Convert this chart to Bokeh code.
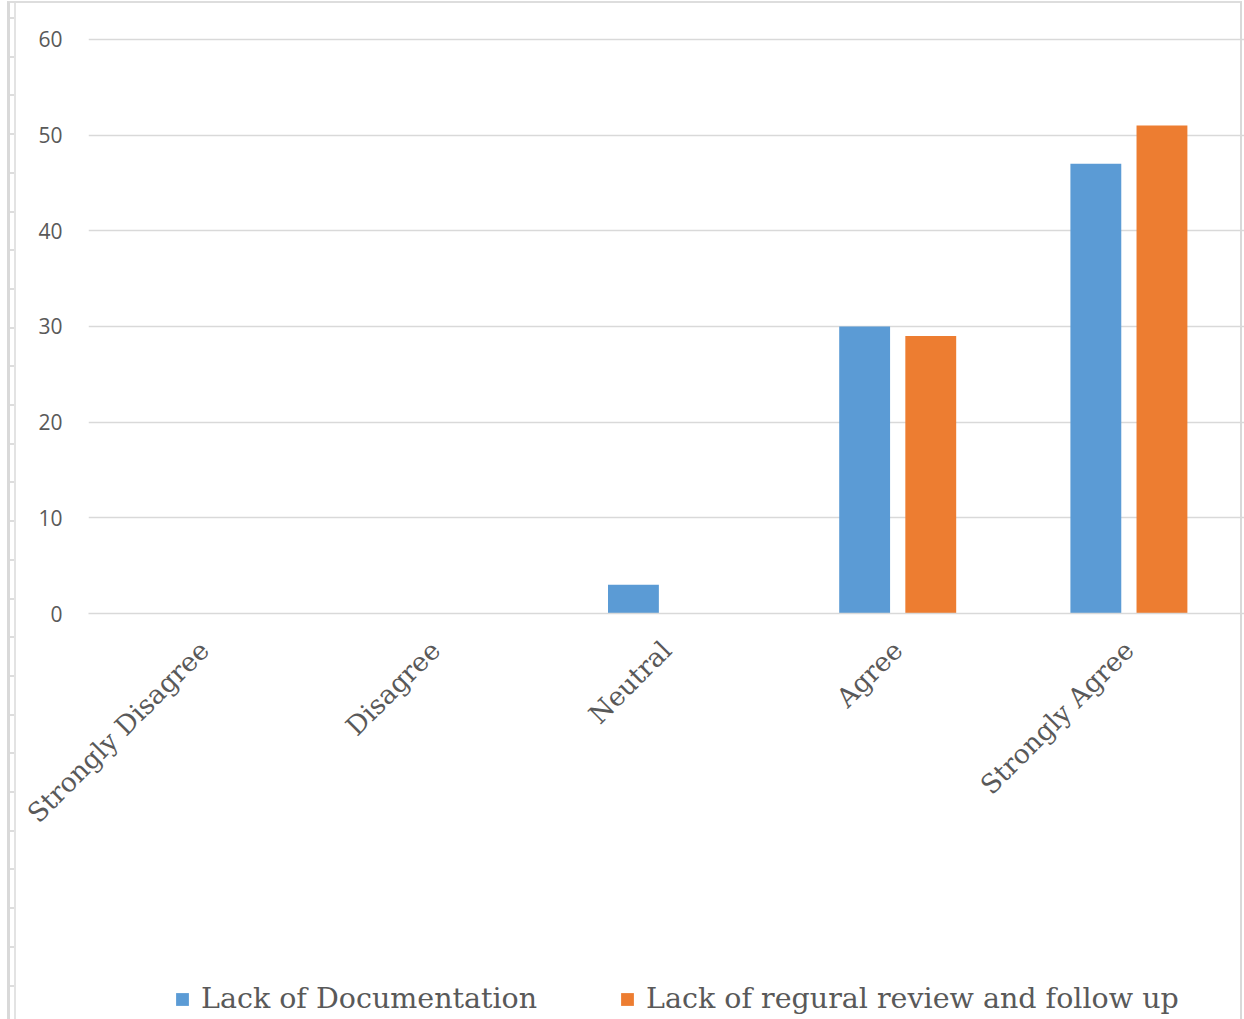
import math
from bokeh.plotting import figure
from bokeh.layouts import column
from bokeh.models import (ColumnDataSource, FactorRange, Range1d, Legend, LegendItem,
                          SingleIntervalTicker, InlineStyleSheet)
from bokeh.transform import dodge
from bokeh.embed import file_html
from bokeh.resources import INLINE

categories = ["Strongly Disagree", "Disagree", "Neutral", "Agree", "Strongly Agree"]
lack_documentation = [0, 0, 3, 30, 47]
lack_review = [0, 0, 0, 29, 51]
series_names = ["Lack of Documentation", "Lack of regural review and follow up"]

BLUE = "#5B9BD5"
ORANGE = "#ED7D31"
GRID = "#D9D9D9"
TEXT = "#595959"

src = ColumnDataSource(dict(cat=categories, doc=lack_documentation, rev=lack_review))

p = figure(width=1244, height=960, x_range=FactorRange(*categories, range_padding=0),
           y_range=Range1d(0, 60.2), output_backend="svg", toolbar_location=None,
           min_border_left=88, min_border_right=0, min_border_top=37, min_border_bottom=347)
p.frame_width = 1156
p.frame_height = 576

p.vbar(x=dodge("cat", -0.143, range=p.x_range), top="doc", width=0.22, source=src,
       fill_color=BLUE, line_color=None)
p.vbar(x=dodge("cat", 0.143, range=p.x_range), top="rev", width=0.22, source=src,
       fill_color=ORANGE, line_color=None)

p.outline_line_color = None
p.background_fill_color = "white"
p.border_fill_color = "white"

p.xgrid.grid_line_color = None
p.ygrid.grid_line_color = GRID
p.ygrid.grid_line_width = 1.5
p.yaxis.ticker = SingleIntervalTicker(interval=10)

p.yaxis.axis_line_color = None
p.yaxis.major_tick_line_color = None
p.yaxis.minor_tick_line_color = None
p.yaxis.major_tick_out = 0
p.yaxis.major_tick_in = 0
p.yaxis.major_label_text_font = "Open Sans"
p.yaxis.major_label_text_font_size = "21px"
p.yaxis.major_label_text_color = TEXT
p.yaxis.major_label_standoff = 22

p.xaxis.axis_line_color = GRID
p.xaxis.axis_line_width = 1.5
p.xaxis.major_tick_line_color = None
p.xaxis.minor_tick_line_color = None
p.xaxis.major_tick_out = 0
p.xaxis.major_tick_in = 0
p.xaxis.major_label_orientation = math.pi / 4
p.xaxis.major_label_text_font = "DejaVu Serif"
p.xaxis.major_label_text_font_size = "26.5px"
p.xaxis.major_label_text_color = TEXT
p.xaxis.major_label_standoff = 32

# legend strip below the chart (its renderers are hidden; only the legend shows)
lg = figure(width=1244, height=59, x_range=FactorRange(*categories), y_range=Range1d(0, 60),
            output_backend="svg", toolbar_location=None,
            min_border_left=0, min_border_right=0, min_border_top=0, min_border_bottom=0)
lg.axis.visible = False
lg.grid.visible = False
lg.outline_line_color = None
lg.border_fill_color = "white"
d1 = lg.vbar(x="cat", top="doc", width=0.2, source=src, fill_color=BLUE, line_color=None,
             visible=False)
d2 = lg.vbar(x="cat", top="rev", width=0.2, source=src, fill_color=ORANGE, line_color=None,
             visible=False)

legend = Legend(items=[LegendItem(label=series_names[0], renderers=[d1]),
                       LegendItem(label=series_names[1], renderers=[d2])],
                orientation="horizontal", location=(86, 4))
legend.label_text_font = "DejaVu Serif"
legend.label_text_font_size = "28.5px"
legend.label_text_color = TEXT
legend.glyph_width = 16
legend.glyph_height = 16
legend.label_standoff = 11
legend.spacing = 82
legend.padding = 0
legend.margin = 0
legend.border_line_color = None
legend.background_fill_alpha = 0
legend.inactive_fill_alpha = 0
legend.click_policy = "none"
lg.add_layout(legend, "center")

css = InlineStyleSheet(css="""
:host { position: relative; }
:host::after {
  content: ""; position: absolute; left: 7px; top: 1px; width: 1235px; height: 1100px;
  box-sizing: border-box; border-left: 3px solid #D9D9D9; border-top: 2px solid #DDDDDD;
  border-right: 2px solid #D9D9D9; pointer-events: none; z-index: 10;
}
:host::before {
  content: ""; position: absolute; left: 9px; top: 3px; width: 7px; height: 1100px;
  box-sizing: border-box; border-right: 2px solid #E3E3E3; pointer-events: none; z-index: 10;
  background: repeating-linear-gradient(to bottom, transparent 0px, transparent 14px,
              #DDDDDD 14px, #DDDDDD 16px, transparent 16px, transparent 38.7px);
}
""")

layout = column(p, lg, spacing=0, stylesheets=[css])

open("out.html", "w").write(file_html(layout, INLINE))
